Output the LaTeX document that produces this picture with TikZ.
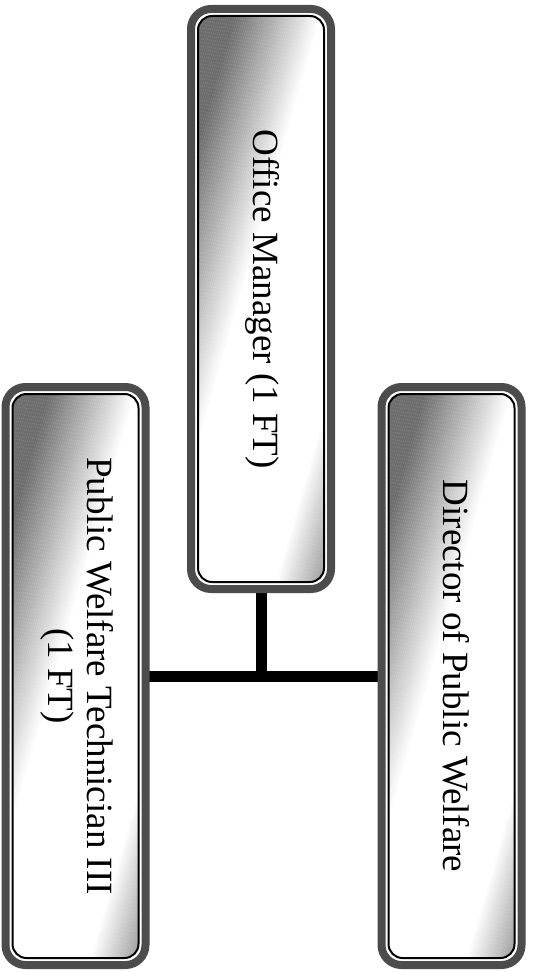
\documentclass[tikz,border=0pt]{standalone}
\usepackage{fontspec}
\setmainfont{Liberation Serif}
\usepackage{graphicx}
\usepackage{tikz}
\usetikzlibrary{backgrounds,calc}
\colorlet{boxrim}{black!70}
\newcommand{\staff}[1]{\rotatebox{-90}{\begin{tabular}{@{}c@{}}#1\end{tabular}}}

\begin{document}
\begin{tikzpicture}[x=0.5pt,y=-0.5pt,
  post/.style={draw=boxrim,line width=4pt,rounded corners=10pt,
    minimum width=70pt,minimum height=289pt,inner sep=0pt,outer sep=0pt,
    font=\fontsize{18.5pt}{19.5pt}\selectfont},
  inset/.style={rounded corners=7pt},
  link/.style={black,line width=5.5pt}]
  \useasboundingbox (0,0) rectangle (532,972);
  % top: office manager
  \node[post,minimum height=290pt] (om) at (261,299) {\staff{Office Manager (1 FT)}};
  % bottom row
  \node[post] (tech) at (75.5,676) {\staff{Public Welfare Technician III\\(1 FT)}};
  \node[post] (dir) at (451.5,676) {\staff{Director of Public Welfare}};
  \begin{scope}[on background layer]
    % connectors behind the boxes
    \draw[link] (tech.east) -- (dir.west);
    \draw[link] (om.south) -- (om.south |- tech.east);
    % tilted grey band inside each box: dark at two corners, white across the middle
    \foreach \b in {om,tech,dir}{
      \begin{scope}
        \clip[inset] ([shift={(3.5pt,3.5pt)}]\b.south west) rectangle ([shift={(-3.5pt,-3.5pt)}]\b.north east);
        \fill[white] (\b.south west) rectangle (\b.north east);
        \begin{scope}[shift={(\b.center)},rotate=-16,xshift=7.5pt]
          \foreach \s in {-100,-99,...,99}{
            \pgfmathsetmacro\tone{57*max(0,min(1,max((-18-\s)/42,(\s-38)/34)))}
            \fill[black!\tone] (\s pt,-200pt) -- ++(1.1pt,0pt) -- ++(0pt,400pt) -- ++(-1.1pt,0pt) -- cycle;
          }
        \end{scope}
      \end{scope}
      \draw[inset,black,line width=1pt] ([shift={(3.5pt,3.5pt)}]\b.south west) rectangle ([shift={(-3.5pt,-3.5pt)}]\b.north east);
    }
  \end{scope}
\end{tikzpicture}
\end{document}
